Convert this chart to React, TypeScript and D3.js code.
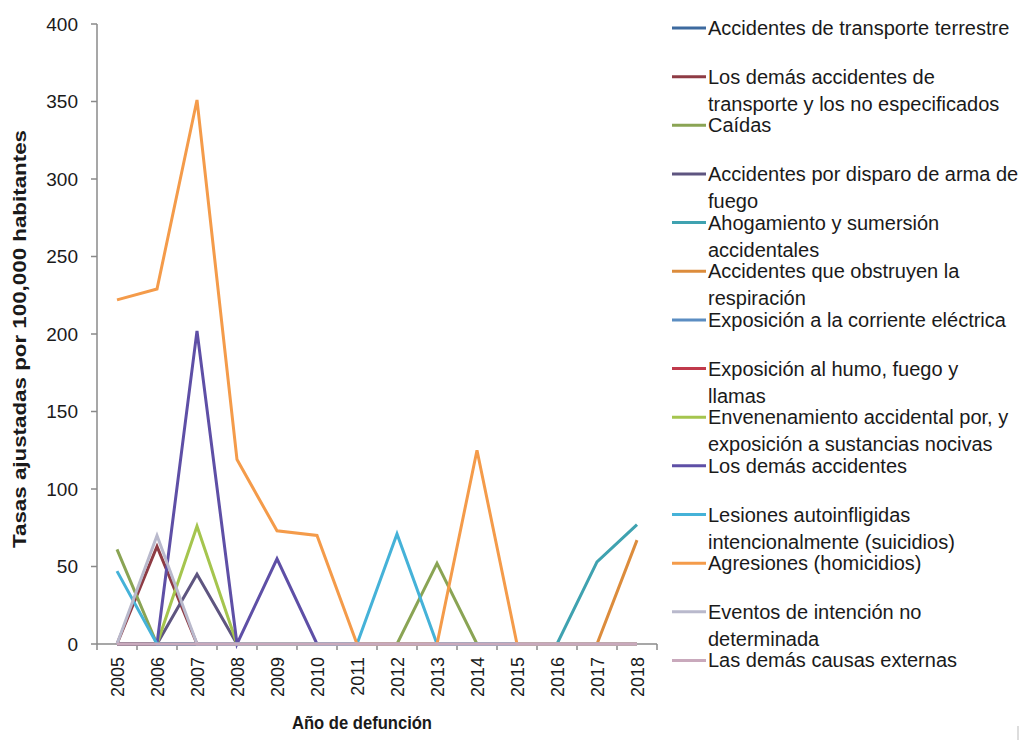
import React from "react";
import * as d3 from "d3";

const years = ["2005","2006","2007","2008","2009","2010","2011","2012","2013","2014","2015","2016","2017","2018"];
const yTicks = [0, 50, 100, 150, 200, 250, 300, 350, 400];

const seriesNames = [
  ["Accidentes de transporte terrestre"],
  ["Los demás accidentes de", "transporte y los no especificados"],
  ["Caídas"],
  ["Accidentes por disparo de arma de", "fuego"],
  ["Ahogamiento y sumersión", "accidentales"],
  ["Accidentes que obstruyen la", "respiración"],
  ["Exposición a la corriente eléctrica"],
  ["Exposición al humo, fuego y", "llamas"],
  ["Envenenamiento accidental por, y", "exposición a sustancias nocivas"],
  ["Los demás accidentes"],
  ["Lesiones autoinfligidas", "intencionalmente (suicidios)"],
  ["Agresiones (homicidios)"],
  ["Eventos de intención no", "determinada"],
  ["Las demás causas externas"],
];

const seriesColors = [
  "#3d6a9f", "#8e3b44", "#8aa454", "#5e5580", "#3fa2b0", "#dc8c3c", "#5b8dc2",
  "#c0394b", "#a5c54e", "#5e4fa6", "#45b2d8", "#f49b4a", "#b9b9cc", "#c9a9bc",
];

const transporteTerrestre = [0,0,0,0,0,0,0,0,0,0,0,0,0,0];
const demasTransporte     = [0,63,0,0,0,0,0,0,0,0,0,0,0,0];
const caidas              = [61,0,0,0,0,0,0,0,52,0,0,0,0,0];
const disparo             = [0,0,45,0,0,0,0,0,0,0,0,0,0,0];
const ahogamiento         = [0,0,0,0,0,0,0,0,0,0,0,0,53,77];
const obstruyen           = [0,0,0,0,0,0,0,0,0,0,0,0,0,67];
const corriente           = [0,0,0,0,0,0,0,0,0,0,0,0,0,0];
const humo                = [0,0,0,0,0,0,0,0,0,0,0,0,0,0];
const envenenamiento      = [0,0,76,0,0,0,0,0,0,0,0,0,0,0];
const demasAccidentes     = [0,0,202,0,55,0,0,0,0,0,0,0,0,0];
const lesiones            = [47,0,0,0,0,0,0,71,0,0,0,0,0,0];
const agresiones          = [222,229,351,119,73,70,0,0,0,125,0,0,0,0];
const eventos             = [0,70,0,0,0,0,0,0,0,0,0,0,0,0];
const demasCausas         = [0,0,0,0,0,0,0,0,0,0,0,0,0,0];

const seriesValues = [
  transporteTerrestre, demasTransporte, caidas, disparo, ahogamiento, obstruyen, corriente,
  humo, envenenamiento, demasAccidentes, lesiones, agresiones, eventos, demasCausas,
];

const FONT = "'Liberation Sans', Arial, sans-serif";

export default function App() {
  const W = 1029, H = 740;
  const left = 97, right = 657, top = 24, bottom = 644;
  const x = d3.scaleBand<string>().domain(years).range([left, right]);
  const cx = (yr: string) => (x(yr) as number) + x.bandwidth() / 2;
  const y = d3.scaleLinear().domain([0, 400]).range([bottom, top]);
  const line = d3.line<number>().x((_, i) => cx(years[i])).y((v) => y(v));
  const axisColor = "#8a8a8a";
  const boundaries = years.map((yr) => x(yr) as number).concat([right]);

  const legendX = 672, legendY0 = 28, legendStep = 48.65, lineGap = 27;

  return (
    <div style={{ position: "absolute", left: 0, top: 0 }}>
      <svg width={W} height={H} style={{ display: "block", background: "#fff" }} fontFamily={FONT}>
        {/* axes */}
        <line x1={left} y1={top} x2={left} y2={bottom} stroke={axisColor} strokeWidth={1.5} />
        {yTicks.map((t) => (
          <g key={t}>
            <line x1={left - 6} x2={left} y1={y(t)} y2={y(t)} stroke={axisColor} strokeWidth={1.5} />
            <text x={78} y={y(t) + 6.5} textAnchor="end" fontSize={19} fill="#1a1a1a">{t}</text>
          </g>
        ))}
        <line x1={left} y1={bottom} x2={right} y2={bottom} stroke={axisColor} strokeWidth={1.5} />
        {boundaries.map((b, i) => (
          <line key={i} x1={b} x2={b} y1={bottom} y2={bottom + 6} stroke={axisColor} strokeWidth={1.5} />
        ))}
        {years.map((yr) => (
          <text key={yr} transform={`translate(${cx(yr) + 6.5},${657}) rotate(-90)`} textAnchor="end" fontSize={18} fill="#1a1a1a">{yr}</text>
        ))}

        {/* series */}
        {seriesValues.map((vals, i) => (
          <path key={i} d={line(vals) as string} fill="none" stroke={seriesColors[i]} strokeWidth={3} strokeLinejoin="miter" />
        ))}

        {/* axis titles */}
        <text transform={`translate(26,339) rotate(-90)`} textAnchor="middle" fontSize={18} fontWeight="bold" fill="#1a1a1a" textLength={418} lengthAdjust="spacingAndGlyphs">Tasas ajustadas por 100,000 habitantes</text>
        <text x={362} y={729} textAnchor="middle" fontSize={19} fontWeight="bold" fill="#1a1a1a" textLength={140} lengthAdjust="spacingAndGlyphs">Año de defunción</text>

        {/* legend */}
        {seriesNames.map((lines, i) => {
          const ly = legendY0 + i * legendStep;
          return (
            <g key={i}>
              <line x1={legendX} x2={legendX + 34} y1={ly} y2={ly} stroke={seriesColors[i]} strokeWidth={3} />
              {lines.map((t, j) => (
                <text key={j} x={legendX + 36} y={ly + 7 + j * lineGap} fontSize={20} fill="#1a1a1a">{t}</text>
              ))}
            </g>
          );
        })}
        <line x1={1018} x2={1018} y1={726} y2={740} stroke="#bbb" strokeWidth={1} />
      </svg>
    </div>
  );
}
